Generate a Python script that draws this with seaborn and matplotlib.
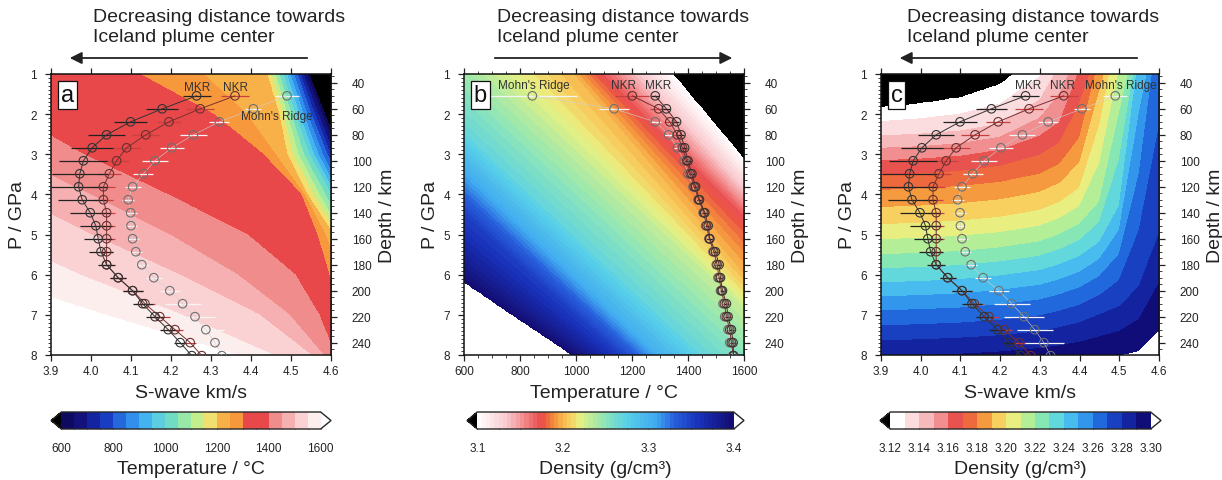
import numpy as np
import matplotlib
matplotlib.use("Agg")
import matplotlib.pyplot as plt
import seaborn as sns
from matplotlib.colors import ListedColormap, LinearSegmentedColormap
from matplotlib.patches import FancyArrowPatch
from matplotlib.ticker import MultipleLocator, FormatStrFormatter

sns.set_theme(style="ticks")
plt.rcParams['font.family'] = ['Liberation Sans', 'DejaVu Sans']

# ---------------------------------------------------------------- profiles
depth_km = [50, 60, 70, 80, 90, 100, 110, 120, 130, 140, 150,
            160, 170, 180, 190, 200, 210, 220, 230, 240, 250]

vs_mkr = [4.264, 4.178, 4.099, 4.039, 4.003, 3.981, 3.972, 3.969, 3.978, 3.998, 4.012,
          4.018, 4.025, 4.039, 4.068, 4.104, 4.129, 4.160, 4.193, 4.223, 4.252]
vs_mkr_err = [0.035, 0.040, 0.042, 0.046, 0.052, 0.060, 0.070, 0.070, 0.060, 0.050, 0.040,
              0.035, 0.030, 0.022, 0.020, 0.025, 0.025, 0.022, 0.020, 0.015, 0.015]
vs_nkr = [4.360, 4.273, 4.195, 4.137, 4.089, 4.064, 4.046, 4.031, 4.031, 4.039, 4.039,
          4.039, 4.039, 4.039, 4.068, 4.104, 4.135, 4.172, 4.210, 4.248, 4.277]
vs_nkr_err = [0.035, 0.035, 0.030, 0.035, 0.035, 0.030, 0.030, 0.030, 0.025, 0.020, 0.020,
              0.020, 0.015, 0.015, 0.020, 0.025, 0.025, 0.025, 0.020, 0.015, 0.015]
vs_mohn = [4.490, 4.406, 4.321, 4.256, 4.202, 4.160, 4.131, 4.104, 4.093, 4.099, 4.100,
           4.104, 4.112, 4.127, 4.157, 4.197, 4.229, 4.260, 4.287, 4.310, 4.327]
vs_mohn_err = [0.030, 0.020, 0.025, 0.033, 0.030, 0.033, 0.025, 0.020, 0.015, 0.015, 0.015,
               0.015, 0.015, 0.015, 0.020, 0.025, 0.045, 0.050, 0.045, 0.050, 0.050]

t_mkr = [1283, 1323, 1359, 1375, 1388, 1400, 1414, 1427, 1441, 1460, 1472,
         1478, 1498, 1511, 1516, 1523, 1537, 1543, 1555, 1561, 1563]
t_mkr_err = [15, 12, 10, 10, 10, 10, 10, 10, 10, 10, 10,
             10, 10, 10, 10, 10, 10, 10, 10, 10, 10]
t_nkr = [1201, 1295, 1335, 1362, 1380, 1395, 1408, 1422, 1438, 1456, 1466,
         1476, 1492, 1504, 1511, 1519, 1530, 1537, 1549, 1555, 1562]
t_nkr_err = [60, 30, 20, 15, 12, 10, 10, 10, 10, 10, 10,
             10, 10, 10, 10, 10, 10, 10, 10, 10, 10]
t_mohn = [844, 1136, 1283, 1331, 1362, 1386, 1400, 1418, 1436, 1454, 1463,
          1475, 1489, 1501, 1507, 1516, 1525, 1531, 1543, 1549, 1560]
t_mohn_err = [160, 55, 20, 15, 12, 10, 10, 10, 10, 10, 10,
              10, 10, 10, 10, 10, 10, 10, 10, 10, 10]


def depth_to_p(d):
    return 1.22 + (np.asarray(d, dtype=float) - 40.0) / 30.9


def p_to_depth(p):
    return 40.0 + (np.asarray(p, dtype=float) - 1.22) * 30.9


p_prof = depth_to_p(depth_km)

# ---------------------------------------------------------------- model fields
# (a) temperature isolines: Vs position of each isotherm at P = 1..8 GPa
a_p_cols = [1, 2, 3, 4, 5, 6, 7, 8]
a_levels = [1600, 1500, 1400, 1300, 1200, 1000, 800, 600]
a_vs_iso = [
    [3.00, 3.10, 3.20, 3.35, 3.50, 3.72, 4.03, 4.36],
    [3.30, 3.45, 3.60, 3.80, 4.00, 4.22, 4.42, 4.55],
    [3.70, 3.80, 3.98, 4.19, 4.39, 4.51, 4.57, 4.61],
    [4.12, 4.306, 4.43, 4.525, 4.565, 4.595, 4.62, 4.645],
    [4.44, 4.47, 4.49, 4.54, 4.605, 4.65, 4.70, 4.74],
    [4.48, 4.51, 4.545, 4.60, 4.65, 4.70, 4.75, 4.80],
    [4.515, 4.55, 4.59, 4.64, 4.69, 4.74, 4.79, 4.84],
    [4.545, 4.585, 4.625, 4.67, 4.72, 4.77, 4.82, 4.87],
]

# (b) density isolines: temperature of each isopycnal at P = 1..8 GPa
b_p_cols = [1, 2, 3, 4, 5, 6, 7, 8]
b_levels = [3.40, 3.35, 3.30, 3.27, 3.23, 3.20, 3.17, 3.10]
b_t_iso = [
    [-514, -301, -88, 125, 338, 551, 764, 977],
    [43, 202, 361, 520, 679, 838, 997, 1156],
    [257, 406, 555, 704, 853, 1002, 1151, 1300],
    [370, 523, 676, 829, 982, 1135, 1288, 1441],
    [704, 857, 1010, 1163, 1316, 1469, 1622, 1775],
    [989, 1111, 1233, 1355, 1477, 1599, 1721, 1843],
    [1096, 1238, 1380, 1522, 1664, 1806, 1948, 2090],
    [1346, 1466, 1586, 1706, 1826, 1946, 2066, 2186],
]

# (c) density isolines: pressure of each isopycnal at a set of Vs columns
c_vs_cols = [3.8, 3.9, 4.0, 4.1, 4.2, 4.3, 4.35, 4.4, 4.45, 4.5, 4.55, 4.6, 4.65, 4.7]
c_levels = [3.12, 3.14, 3.16, 3.18, 3.20, 3.22, 3.24, 3.26, 3.28, 3.30]
c_p_iso = [
    [1.90, 1.83, 1.73, 1.58, 1.25, 0.50, 0.00, -0.50, -1.00, -1.50, -2.00, -2.50, -3.00, -3.50],
    [2.60, 2.54, 2.50, 2.42, 2.25, 1.65, 0.80, 0.00, -0.50, -1.00, -1.50, -2.00, -2.50, -3.00],
    [3.20, 3.16, 3.12, 3.05, 2.90, 2.55, 2.20, 0.90, 0.00, -0.60, -1.00, -1.50, -2.00, -2.50],
    [3.95, 3.90, 3.86, 3.80, 3.70, 3.50, 3.25, 2.60, 0.60, -0.40, -0.80, -1.30, -1.80, -2.30],
    [4.80, 4.75, 4.72, 4.66, 4.57, 4.40, 4.20, 3.85, 2.30, -0.20, -0.50, -1.10, -1.50, -2.00],
    [5.55, 5.50, 5.47, 5.42, 5.33, 5.18, 5.00, 4.75, 4.20, 2.00, -0.20, -0.90, -1.30, -1.80],
    [6.25, 6.20, 6.17, 6.12, 6.03, 5.90, 5.75, 5.55, 5.20, 4.30, 0.50, -0.70, -1.00, -1.50],
    [6.95, 6.90, 6.87, 6.83, 6.75, 6.63, 6.50, 6.33, 6.05, 5.50, 3.50, -0.30, -0.80, -1.20],
    [7.70, 7.65, 7.62, 7.58, 7.52, 7.42, 7.32, 7.20, 7.00, 6.80, 6.30, 5.00, 3.00, 1.50],
    [8.50, 8.45, 8.42, 8.38, 8.33, 8.26, 8.22, 8.17, 8.10, 8.03, 7.93, 7.44, 6.50, 5.50],
]

# colour tables
temp_colors = ['#0e0a60', '#12127a', '#1424a0', '#1a3cc0', '#2468dc', '#3290ec',
               '#44b4f0', '#5ccee0', '#70dcc4', '#98e8a8', '#c4ee8c', '#f0e070',
               '#f8b048', '#f8983c', '#e9484a', '#e9484a', '#f08c8c', '#f6b0b2',
               '#fad2d4', '#fdeeee']
dens_anchor_vals = [3.10, 3.135, 3.16, 3.175, 3.19, 3.205, 3.22, 3.245, 3.275, 3.31, 3.33, 3.36, 3.40]
dens_anchor_cols = ['#ffffff', '#f8c8cc', '#f07878', '#e84848', '#f5903c', '#f8c858', '#e8f082',
                    '#98e8b0', '#58d0e8', '#40a8f0', '#2860dc', '#1830b8', '#140c70']
dens_c_colors = ['#ffffff', '#fbdde0', '#f6b9bc', '#f08e90', '#e9534f', '#ee6a3e',
                 '#f59a3e', '#f8d060', '#e8ee80', '#b4ee96', '#86e6b4', '#62d8dc',
                 '#48bcee', '#3296ec', '#2068dc', '#1840c0', '#1424a0', '#100c78']

# ---------------------------------------------------------------- grids
vs_f = np.linspace(3.9, 4.6, 351)
t_f = np.linspace(600, 1600, 351)
p_f = np.linspace(1, 8, 351)

field_a = np.empty((p_f.size, vs_f.size))
for i, p in enumerate(p_f):
    xs = [np.interp(p, a_p_cols, row) for row in a_vs_iso]
    field_a[i] = np.interp(vs_f, xs, a_levels, left=1700, right=500)

field_b = np.empty((p_f.size, t_f.size))
for i, p in enumerate(p_f):
    ts = [np.interp(p, b_p_cols, row) for row in b_t_iso]
    field_b[i] = np.interp(t_f, ts, b_levels, left=3.45, right=3.05)

field_c = np.empty((p_f.size, vs_f.size))
for j, v in enumerate(vs_f):
    ps = [np.interp(v, c_vs_cols, row) for row in c_p_iso]
    field_c[:, j] = np.interp(p_f, ps, c_levels, left=3.10, right=3.32)

# ---------------------------------------------------------------- figure
W, H = 1222, 481
fig = plt.figure(figsize=(W / 100, H / 100), dpi=100)
TXT = '#222222'


def box(x0, x1, y0, y1):
    return fig.add_axes([x0 / W, 1 - y1 / H, (x1 - x0) / W, (y1 - y0) / H])


def frame(ax, xmajor, xfmt):
    ax.set_ylim(8, 1)
    ax.xaxis.set_major_locator(MultipleLocator(xmajor))
    ax.xaxis.set_major_formatter(FormatStrFormatter(xfmt))
    ax.yaxis.set_major_locator(MultipleLocator(1))
    ax.yaxis.set_minor_locator(MultipleLocator(0.1))
    ax.tick_params(which='both', direction='out', top=True, right=False,
                   labelsize=8.5, colors=TXT)
    ax.tick_params(axis='y', pad=6)
    ax.tick_params(axis='x', pad=3)
    ax.tick_params(which='major', length=4, width=0.9)
    ax.tick_params(which='minor', length=2, width=0.6)
    for s in ax.spines.values():
        s.set_linewidth(1.1)
        s.set_color('#111111')
    ax.set_ylabel('P / GPa', fontsize=14, color=TXT, labelpad=3)
    sec = ax.secondary_yaxis('right', functions=(p_to_depth, depth_to_p))
    sec.set_yticks(range(40, 241, 20))
    sec.yaxis.set_minor_locator(MultipleLocator(5))
    sec.tick_params(which='both', direction='out', labelsize=8.5, colors=TXT)
    sec.tick_params(which='major', length=4, width=0.9, pad=11)
    sec.tick_params(which='minor', length=2, width=0.6)
    sec.spines['right'].set_linewidth(1.1)
    sec.set_ylabel('Depth / km', fontsize=14, color=TXT, labelpad=5)
    ax.grid(False)


def letter(ax, s):
    ax.text(0.035, 0.965, s, transform=ax.transAxes, fontsize=17, va='top', ha='left',
            color='#111111', zorder=10,
            bbox=dict(boxstyle='square,pad=0.12', fc='white', ec='#111111', lw=0.9))


def profile(ax, x, xerr, y, ecolor, lcolor, mcolor, lw=0.7):
    ax.errorbar(x, y, xerr=xerr, fmt='none', ecolor=ecolor, elinewidth=0.9,
                capsize=0, zorder=4)
    sns.lineplot(x=x, y=y, orient='y', ax=ax, color=lcolor, lw=lw,
                 errorbar=None, legend=False, zorder=5)
    sns.scatterplot(x=x, y=y, ax=ax, s=38, marker='o', facecolor='none',
                    edgecolor=mcolor, linewidth=0.8, legend=False, zorder=6)


def cbar(cf, x0, x1, ticks, minor, fmt, label):
    cax = box(x0, x1, 413, 430)
    cb = fig.colorbar(cf, cax=cax, orientation='horizontal', extendfrac=0.04)
    cb.set_ticks(ticks)
    cb.ax.xaxis.set_major_formatter(FormatStrFormatter(fmt))
    cb.ax.xaxis.set_minor_locator(MultipleLocator(minor))
    cb.ax.tick_params(which='both', direction='in', colors=TXT, labelsize=8.5, pad=9)
    cb.ax.tick_params(which='major', length=4, width=0.8)
    cb.ax.tick_params(which='minor', length=3, width=0.6)
    cb.outline.set_linewidth(1.0)
    cb.set_label(label, fontsize=14, color=TXT, labelpad=5)
    return cb


def header(x_text, x_from, x_to):
    fig.text(x_text / W, 1 - 22 / H, 'Decreasing distance towards',
             fontsize=14, va='baseline', ha='left', color=TXT)
    fig.text(x_text / W, 1 - 42 / H, 'Iceland plume center',
             fontsize=14, va='baseline', ha='left', color=TXT)
    arr = FancyArrowPatch((x_from / W, 1 - 59 / H), (x_to / W, 1 - 59 / H),
                          transform=fig.transFigure, arrowstyle='-|>',
                          mutation_scale=18, lw=1.3, color='#222222')
    fig.add_artist(arr)


# ---- (a) temperature vs S-wave velocity
ax_a = box(51, 331, 75, 356)
cmap_a = ListedColormap(temp_colors)
cmap_a.set_under('black')
cmap_a.set_over('white')
cf_a = ax_a.contourf(vs_f, p_f, field_a, levels=np.arange(600, 1601, 50),
                     cmap=cmap_a, extend='both', zorder=1)
ax_a.set_xlim(3.9, 4.6)
frame(ax_a, 0.1, '%.1f')
ax_a.set_xlabel('S-wave km/s', fontsize=14, color=TXT, labelpad=5)
profile(ax_a, vs_mohn, vs_mohn_err, p_prof, '#f4f4f4', '#d0d0d0', '#707070', lw=0.4)
profile(ax_a, vs_nkr, vs_nkr_err, p_prof, '#c84040', '#7a3030', '#6a3030')
profile(ax_a, vs_mkr, vs_mkr_err, p_prof, '#222222', '#333333', '#333333')
for s, x, y in [('MKR', 4.265, 1.33), ('NKR', 4.36, 1.33), ("Mohn's Ridge", 4.465, 2.05)]:
    ax_a.text(x, y, s, fontsize=8.5, ha='center', va='center', color='#333333', zorder=7)
letter(ax_a, 'a')
cbar(cf_a, 51, 331, range(600, 1601, 200), 50, '%d', 'Temperature / °C')
header(93, 310, 67)

# ---- (b) density vs temperature
ax_b = box(464, 744, 75, 356)
anchor_pos = np.clip(np.round((np.array(dens_anchor_vals) - 3.10) / 0.30, 6), 0, 1)
anchor_pos[0], anchor_pos[-1] = 0.0, 1.0
cmap_b = LinearSegmentedColormap.from_list('dens', list(zip(anchor_pos, dens_anchor_cols)))
cmap_b.set_under('black')
cmap_b.set_over('white')
cf_b = ax_b.contourf(t_f, p_f, field_b, levels=np.linspace(3.10, 3.40, 61),
                     cmap=cmap_b, extend='both', zorder=1)
ax_b.set_xlim(600, 1600)
frame(ax_b, 200, '%d')
ax_b.xaxis.set_minor_locator(MultipleLocator(50))
ax_b.tick_params(axis='x', which='minor', length=2, width=0.6, top=True)
ax_b.set_xlabel('Temperature / °C', fontsize=14, color=TXT, labelpad=5)
profile(ax_b, t_mohn, t_mohn_err, p_prof, '#f4f4f4', '#d0d0d0', '#707070', lw=0.4)
profile(ax_b, t_nkr, t_nkr_err, p_prof, '#c84040', '#7a3030', '#6a3030')
profile(ax_b, t_mkr, t_mkr_err, p_prof, '#222222', '#5a2a2a', '#333333')
for s, x, y in [("Mohn's Ridge", 849, 1.27), ('NKR', 1168, 1.27), ('MKR', 1293, 1.27)]:
    ax_b.text(x, y, s, fontsize=8.5, ha='center', va='center', color='#333333', zorder=7)
letter(ax_b, 'b')
cbar(cf_b, 467, 744, [3.1, 3.2, 3.3, 3.4], 0.025, '%.1f', 'Density (g/cm³)')
header(497, 492, 735)

# ---- (c) density vs S-wave velocity
ax_c = box(881, 1159, 75, 356)
cmap_c = ListedColormap(dens_c_colors)
cmap_c.set_under('black')
cmap_c.set_over('white')
cf_c = ax_c.contourf(vs_f, p_f, field_c, levels=np.linspace(3.12, 3.30, 19),
                     cmap=cmap_c, extend='both', zorder=1)
ax_c.set_xlim(3.9, 4.6)
frame(ax_c, 0.1, '%.1f')
ax_c.set_xlabel('S-wave km/s', fontsize=14, color=TXT, labelpad=5)
profile(ax_c, vs_mohn, vs_mohn_err, p_prof, '#f4f4f4', '#d0d0d0', '#707070', lw=0.4)
profile(ax_c, vs_nkr, vs_nkr_err, p_prof, '#c84040', '#7a3030', '#6a3030')
profile(ax_c, vs_mkr, vs_mkr_err, p_prof, '#222222', '#333333', '#333333')
for s, x, y in [('MKR', 4.27, 1.27), ('NKR', 4.358, 1.27), ("Mohn's Ridge", 4.505, 1.27)]:
    ax_c.text(x, y, s, fontsize=8.5, ha='center', va='center', color='#333333',
              zorder=7, clip_on=True)
letter(ax_c, 'c')
cbar(cf_c, 880, 1161, np.round(np.arange(3.12, 3.301, 0.02), 2), 0.01, '%.2f',
     'Density (g/cm³)')
header(907, 1140, 897)

fig.savefig('out.png', dpi=100)
